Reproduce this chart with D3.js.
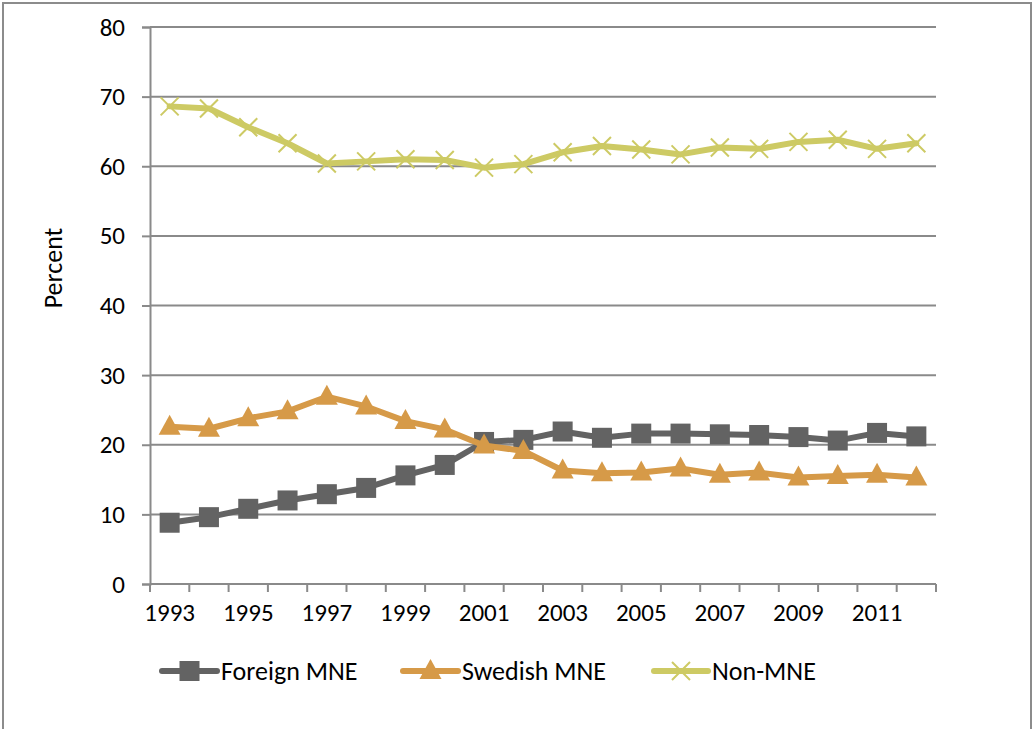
<!DOCTYPE html>
<html><head><meta charset="utf-8">
<script src="https://cdn.jsdelivr.net/npm/d3@7"></script>
<style>
body{margin:0;background:#fff;}
svg{display:block;font-family:Carlito, Lato, "Open Sans", sans-serif;}
</style></head>
<body><svg id="c" width="1035" height="729"></svg>
<script>
const years = ["1993","1994","1995","1996","1997","1998","1999","2000","2001","2002","2003","2004","2005","2006","2007","2008","2009","2010","2011","2012"];
const yearLabels = ["1993","1995","1997","1999","2001","2003","2005","2007","2009","2011"];
const yTicks = [0,10,20,30,40,50,60,70,80];
const foreignMNE = [8.8,9.6,10.8,12.0,12.9,13.8,15.6,17.1,20.4,20.7,21.9,21.0,21.6,21.6,21.5,21.4,21.1,20.6,21.7,21.2];
const swedishMNE = [22.6,22.3,23.8,24.8,26.9,25.5,23.4,22.2,19.9,19.1,16.3,15.9,16.0,16.6,15.7,16.0,15.3,15.5,15.7,15.3];
const nonMNE = [68.6,68.3,65.6,63.3,60.4,60.7,61.0,60.9,59.8,60.3,62.0,62.9,62.4,61.7,62.7,62.5,63.5,63.8,62.5,63.3];
const seriesNames = ["Foreign MNE","Swedish MNE","Non-MNE"];

const svg = d3.select("#c");
const pL = 150, pR = 936, pT = 27, pB = 584;
const grid = "#8a8a8a";
const colors = ["#636363","#d69a48","#cdca64"];
const FONT = "Carlito, Lato, sans-serif";

svg.append("rect").attr("x",3).attr("y",3).attr("width",1028).attr("height",740)
  .attr("fill","#fff").attr("stroke","#8c8c8c").attr("stroke-width",2);

const x = d3.scaleBand().domain(years).range([pL,pR]).padding(0);
const y = d3.scaleLinear().domain([0,80]).range([pB,pT]);
const cx = d => x(d) + x.bandwidth()/2;

// gridlines
svg.append("g").selectAll("line").data(yTicks.filter(v=>v>0)).join("line")
  .attr("x1",pL).attr("x2",pR).attr("y1",d=>y(d)).attr("y2",d=>y(d))
  .attr("stroke",grid).attr("stroke-width",2);

// y axis
const ya = svg.append("g").attr("transform",`translate(${pL},0)`)
  .attr("font-size",25).attr("font-family",FONT)
  .call(d3.axisLeft(y).tickValues(yTicks).tickSize(8).tickPadding(17).tickFormat(d3.format("d")));
ya.attr("font-size",25).attr("font-family",FONT);
ya.select(".domain").attr("stroke",grid).attr("stroke-width",2);
ya.selectAll(".tick line").attr("stroke",grid).attr("stroke-width",2);
ya.selectAll(".tick text").style("font-size","25px").attr("fill","#000").style("font-family",FONT);

// x axis
const xa = svg.append("g").attr("transform",`translate(0,${pB})`)
  .call(d3.axisBottom(x).tickValues(yearLabels).tickSize(0).tickPadding(19));
xa.attr("font-size",25).attr("font-family",FONT);
xa.select(".domain").remove();
xa.selectAll(".tick text").style("font-size","25px").attr("fill","#000").style("font-family",FONT);
svg.append("line").attr("x1",pL).attr("x2",pR).attr("y1",pB).attr("y2",pB)
  .attr("stroke",grid).attr("stroke-width",2);
const bounds = years.map(d=>x(d)).concat([pR]);
svg.append("g").selectAll("line").data(bounds).join("line")
  .attr("x1",d=>d).attr("x2",d=>d).attr("y1",pB).attr("y2",pB+8)
  .attr("stroke",grid).attr("stroke-width",2);

// y label
svg.append("text").attr("transform","translate(62,268) rotate(-90)")
  .attr("text-anchor","middle").attr("font-size",26).attr("fill","#000").text("Percent");

const line = d3.line().x((d,i)=>cx(years[i])).y(d=>y(d));
const data = [foreignMNE, swedishMNE, nonMNE];

function marker(g, type, px, py, color){
  if(type===0){
    g.append("rect").attr("x",px-10).attr("y",py-10).attr("width",20).attr("height",20).attr("fill",color);
  } else if(type===1){
    g.append("path").attr("d",`M${px},${py-12}L${px+11},${py+8}L${px-11},${py+8}Z`).attr("fill",color);
  } else {
    g.append("path").attr("d",`M${px-9},${py-9}L${px+9},${py+9}M${px+9},${py-9}L${px-9},${py+9}`)
      .attr("stroke",color).attr("stroke-width",2).attr("fill","none");
  }
}

data.forEach((vals,s)=>{
  const g = svg.append("g");
  g.append("path").datum(vals).attr("d",line).attr("fill","none")
    .attr("stroke",colors[s]).attr("stroke-width",6).attr("stroke-linejoin","round").attr("stroke-linecap","round");
  vals.forEach((v,i)=>marker(g,s,cx(years[i]),y(v),colors[s]));
});

// legend
const leg = [{x0:162,x1:217,tx:221},{x0:403,x1:458,tx:462},{x0:654,x1:708,tx:712}];
const ly = 671;
leg.forEach((L,s)=>{
  const g = svg.append("g");
  g.append("line").attr("x1",L.x0).attr("x2",L.x1).attr("y1",ly).attr("y2",ly)
    .attr("stroke",colors[s]).attr("stroke-width",6).attr("stroke-linecap","round");
  marker(g,s,(L.x0+L.x1)/2,ly,colors[s]);
  g.append("text").attr("x",L.tx).attr("y",ly).attr("dy","0.35em").attr("font-size",26)
    .attr("fill","#000").attr("font-family",FONT).text(seriesNames[s]);
});
</script></body></html>
